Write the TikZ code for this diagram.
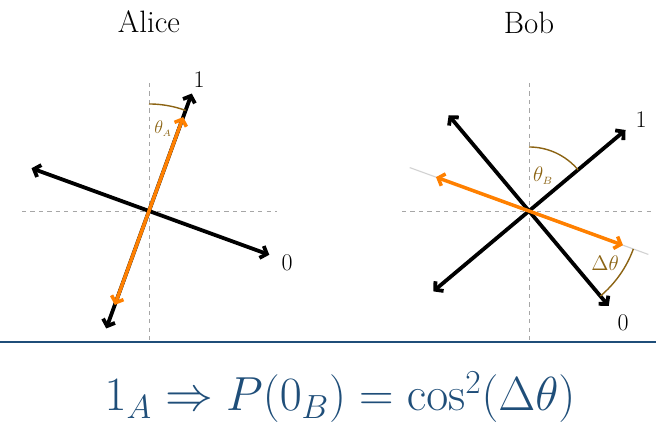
\RequirePackage{fix-cm}
\documentclass[tikz,border=0pt]{standalone}
\usetikzlibrary{calc,arrows.meta}
\definecolor{slideblue}{RGB}{31,78,121}
\definecolor{beamorange}{RGB}{255,128,0}
\definecolor{anglebrown}{RGB}{140,100,20}

\begin{document}
\begin{tikzpicture}[
  x=0.025cm, y=0.025cm,
  axis/.style={gray!70, dash pattern=on 3pt off 3pt, line width=0.5pt},
  basis/.style={{Straight Barb[length=4pt,width=9pt]}-{Straight Barb[length=4pt,width=9pt]}, line width=2.7pt, black},
  photon/.style={{Straight Barb[length=4pt,width=9pt]}-{Straight Barb[length=4pt,width=9pt]}, line width=2.5pt, beamorange},
  guide/.style={gray!35, line width=0.8pt},
  anglearc/.style={anglebrown, line width=1pt},
  anglelab/.style={text=anglebrown, font=\fontsize{15}{17}\selectfont, inner sep=0pt},
  outlab/.style={font=\fontsize{17}{19}\selectfont, inner sep=0pt},
  title/.style={font=\fontsize{22}{26}\selectfont}
]
\useasboundingbox (0,0) rectangle (656,446);

% Centres of the two measurement frames
\coordinate (ca) at (149,235);
\coordinate (cb) at (529,235);

% Titles
\node[title] (alice) at (149,424) {Alice};
\node[title] (bob) at (529,423) {Bob};

% Alice: dashed axes
\coordinate (aN) at ($(ca)+(0,128)$);
\coordinate (aS) at ($(ca)+(0,-129)$);
\coordinate (aW) at ($(ca)+(-127,0)$);
\coordinate (aE) at ($(ca)+(128,0)$);
\draw[axis] (aN) -- (aS);
\draw[axis] (aW) -- (aE);

% Alice: basis and photon
\coordinate (a1) at ($(ca)+(70:125)$);
\coordinate (a1m) at ($(ca)+(250:125)$);
\coordinate (a0) at ($(ca)+(-20:128)$);
\coordinate (a0m) at ($(ca)+(160:125)$);
\coordinate (ap) at ($(ca)+(70:100)$);
\coordinate (apm) at ($(ca)+(250:100)$);
\draw[basis] (a0m) -- (a0);
\draw[basis] (a1m) -- (a1);
\draw[photon] (apm) -- (ap);

% Alice: angle
\coordinate (aarc) at ($(ca)+(90:2.675cm)$);
\draw[anglearc] (aarc) arc[start angle=90, end angle=70, radius=2.675cm];
\node[anglelab, font=\fontsize{13}{15}\selectfont] (thA) at ($(ca)+(14,82)$) {$\theta_{\scriptscriptstyle A}$};

% Alice: outcome labels
\node[outlab] (a1lab) at ($(ca)+(50,131)$) {1};
\node[outlab] (a0lab) at ($(ca)+(138,-52)$) {0};

% Bob: dashed axes
\coordinate (bN) at ($(cb)+(0,128)$);
\coordinate (bS) at ($(cb)+(0,-129)$);
\coordinate (bW) at ($(cb)+(-127,0)$);
\coordinate (bE) at ($(cb)+(122,0)$);
\draw[axis] (bN) -- (bS);
\draw[axis] (bW) -- (bE);

% Bob: guide line through the photon direction
\coordinate (bg) at ($(cb)+(-20:127)$);
\coordinate (bgm) at ($(cb)+(160:127)$);
\draw[guide] (bgm) -- (bg);

% Bob: basis and photon
\coordinate (b1) at ($(cb)+(40:126)$);
\coordinate (b1m) at ($(cb)+(220:125)$);
\coordinate (b0) at ($(cb)+(-50:124)$);
\coordinate (b0m) at ($(cb)+(130:125)$);
\coordinate (bp) at ($(cb)+(-20:100)$);
\coordinate (bpm) at ($(cb)+(160:99)$);
\draw[basis] (b1m) -- (b1);
\draw[basis] (b0m) -- (b0);
\draw[photon] (bpm) -- (bp);

% Bob: angles
\coordinate (barc) at ($(cb)+(90:1.6cm)$);
\draw[anglearc] (barc) arc[start angle=90, end angle=40, radius=1.6cm];
\node[anglelab] (thB) at ($(cb)+(14,35)$) {$\theta_{\scriptscriptstyle B}$};
\coordinate (darc) at ($(cb)+(-20:2.775cm)$);
\draw[anglearc] (darc) arc[start angle=-20, end angle=-50, radius=2.775cm];
\node[anglelab] (dth) at ($(cb)+(76,-52)$) {$\Delta\theta$};

% Bob: outcome labels
\node[outlab] (b1lab) at ($(cb)+(112,91)$) {1};
\node[outlab] (b0lab) at ($(cb)+(94,-112)$) {0};

% Rule and result
\coordinate (rl) at (0,104);
\coordinate (rr) at (656,104);
\draw[slideblue, line width=1.6pt] (rl) -- (rr);
\node[text=slideblue, font=\fontsize{34}{39}\selectfont, anchor=base, inner sep=0pt] (eq) at (340,35)
  {$1_A \Rightarrow P(0_B) = \cos^2(\Delta\theta)$};

\end{tikzpicture}
\end{document}
